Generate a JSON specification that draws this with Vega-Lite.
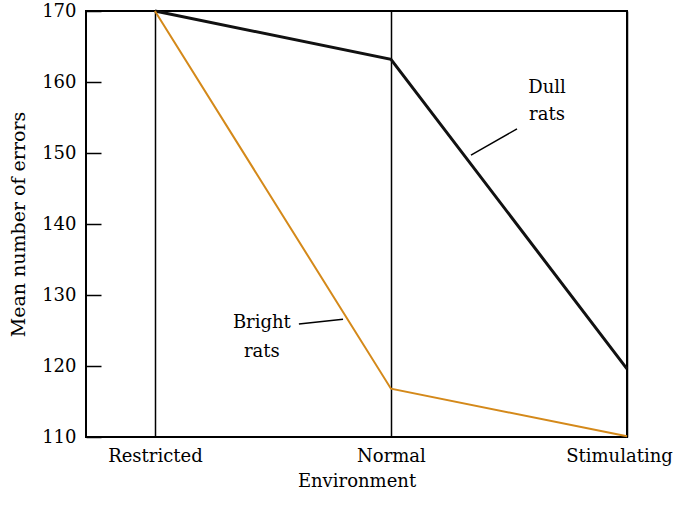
{
  "$schema": "https://vega.github.io/schema/vega-lite/v6.json",
  "width": 541,
  "height": 426,
  "autosize": {"type": "none"},
  "padding": {"left": 86, "top": 11, "right": 51, "bottom": 72},
  "background": "white",
  "config": {
    "view": {"stroke": "black", "strokeWidth": 2},
    "font": "DejaVu Serif"
  },
  "datasets": {
    "rats": [
      {"env": 0, "errors": 170, "group": "Dull rats"},
      {"env": 1, "errors": 163.2, "group": "Dull rats"},
      {"env": 2, "errors": 119.6, "group": "Dull rats"},
      {"env": 0, "errors": 170, "group": "Bright rats"},
      {"env": 1, "errors": 116.8, "group": "Bright rats"},
      {"env": 2, "errors": 110.1, "group": "Bright rats"}
    ],
    "pointers": [
      {"x1": 1.534, "y1": 153.4, "x2": 1.339, "y2": 149.7},
      {"x1": 0.61, "y1": 125.9, "x2": 0.797, "y2": 126.6}
    ],
    "labels": [
      {"x": 1.661, "y": 159.15, "text": "Dull"},
      {"x": 1.661, "y": 155.35, "text": "rats"},
      {"x": 0.453, "y": 126.06, "text": "Bright"},
      {"x": 0.453, "y": 121.97, "text": "rats"}
    ]
  },
  "layer": [
    {
      "data": {"name": "rats"},
      "mark": {"type": "line", "strokeJoin": "miter"},
      "encoding": {
        "x": {
          "field": "env",
          "type": "quantitative",
          "scale": {"domain": [-0.292, 2], "nice": false, "zero": false},
          "axis": {
            "values": [0, 1, 2],
            "title": "Environment",
            "titleFont": "DejaVu Serif",
            "titleFontSize": 18,
            "titleFontWeight": "normal",
            "titleColor": "black",
            "titlePadding": 7,
            "labelExpr": "datum.value == 0 ? 'Restricted' : datum.value == 1 ? 'Normal' : 'Stimulating'",
            "labelFont": "DejaVu Serif",
            "labelFontSize": 18,
            "labelColor": "black",
            "labelPadding": 10,
            "labelOffset": {"condition": {"test": "datum.value == 2", "value": -8}, "value": 0},
            "labelFlush": false,
            "labelOverlap": false,
            "ticks": false,
            "domain": false,
            "grid": true,
            "gridColor": "black",
            "gridWidth": 1.5,
            "gridOpacity": 1
          }
        },
        "y": {
          "field": "errors",
          "type": "quantitative",
          "scale": {"domain": [110, 170], "nice": false, "zero": false},
          "axis": {
            "values": [110, 120, 130, 140, 150, 160, 170],
            "title": "Mean number of errors",
            "titleFont": "DejaVu Serif",
            "titleFontSize": 19,
            "titleFontWeight": "normal",
            "titleColor": "black",
            "titlePadding": 13,
            "labelFont": "DejaVu Serif",
            "labelFontSize": 18,
            "labelColor": "black",
            "tickSize": -15,
            "tickColor": "black",
            "tickWidth": 1.5,
            "labelPadding": 25,
            "domain": false,
            "grid": false
          }
        },
        "color": {
          "field": "group",
          "type": "nominal",
          "scale": {"domain": ["Dull rats", "Bright rats"], "range": ["#111111", "#D4891A"]},
          "legend": null
        },
        "strokeWidth": {
          "field": "group",
          "type": "nominal",
          "scale": {"domain": ["Dull rats", "Bright rats"], "range": [3, 2]},
          "legend": null
        }
      }
    },
    {
      "data": {"name": "pointers"},
      "mark": {"type": "rule", "color": "black", "strokeWidth": 1.5},
      "encoding": {
        "x": {"field": "x1", "type": "quantitative"},
        "x2": {"field": "x2"},
        "y": {"field": "y1", "type": "quantitative"},
        "y2": {"field": "y2"}
      }
    },
    {
      "data": {"name": "labels"},
      "mark": {"type": "text", "font": "DejaVu Serif", "fontSize": 18, "color": "black", "align": "center", "baseline": "middle"},
      "encoding": {
        "x": {"field": "x", "type": "quantitative"},
        "y": {"field": "y", "type": "quantitative"},
        "text": {"field": "text"}
      }
    }
  ]
}
